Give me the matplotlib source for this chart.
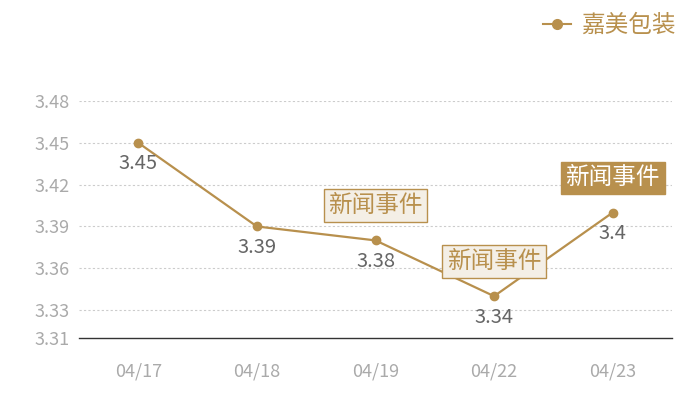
import matplotlib
matplotlib.use("Agg")
import matplotlib.pyplot as plt
from matplotlib.lines import Line2D

plt.rcParams['font.family'] = ['Noto Sans CJK SC', 'DejaVu Sans']

dates = ["04/17", "04/18", "04/19", "04/22", "04/23"]
prices = [3.45, 3.39, 3.38, 3.34, 3.4]
price_labels = ["3.45", "3.39", "3.38", "3.34", "3.4"]
yticks = [3.31, 3.33, 3.36, 3.39, 3.42, 3.45, 3.48]
events = {2: "light", 3: "light", 4: "dark"}  # index -> box style
event_text = "新闻事件"
series_name = "嘉美包装"

gold = "#b8904d"

fig = plt.figure(figsize=(7, 4), dpi=100)
ax = fig.add_axes([79 / 700, 62 / 400, 593 / 700, 237 / 400])

x = list(range(len(dates)))
ax.plot(x, prices, color=gold, lw=1.6, marker="o", ms=6, zorder=3)

ax.set_xlim(-0.5, len(dates) - 0.5)
ax.set_ylim(3.31, 3.48)
ax.set_yticks(yticks)
ax.set_yticklabels([f"{v:.2f}" for v in yticks])
ax.set_xticks(x)
ax.set_xticklabels(dates)
ax.tick_params(axis="both", length=0, colors="#aaaaaa", labelsize=13)
ax.tick_params(axis="x", pad=18)
ax.tick_params(axis="y", pad=7)

for t in yticks[1:]:
    ax.axhline(t, color="#cccccc", lw=0.8, ls=(0, (2, 2)), zorder=1)

for s in ["top", "right", "left"]:
    ax.spines[s].set_visible(False)
ax.spines["bottom"].set_color("#333333")
ax.spines["bottom"].set_linewidth(1)

for xi, v, lab in zip(x, prices, price_labels):
    ax.annotate(lab, (xi, v), xytext=(0, -15), textcoords="offset points",
                ha="center", va="center", fontsize=14.5, color="#666666", zorder=4)

for i, style in events.items():
    if style == "dark":
        bbox = dict(boxstyle="square,pad=0.2", fc=gold, ec=gold, lw=1)
        tc = "white"
    else:
        bbox = dict(boxstyle="square,pad=0.2", fc="#f4efe6", ec=gold, lw=1)
        tc = gold
    ax.annotate(event_text, (x[i], prices[i]), xytext=(0, 25), textcoords="offset points",
                ha="center", va="center", fontsize=17, color=tc, bbox=bbox, zorder=5)

handle = Line2D([], [], color=gold, lw=1.5, marker="o", ms=7)
fig.legend([handle], [series_name], loc="upper right", bbox_to_anchor=(0.985, 1.0),
           frameon=False, fontsize=17, labelcolor=gold, handlelength=1.2,
           handletextpad=0.4, borderaxespad=0.2)

fig.savefig("out.png", dpi=100)
